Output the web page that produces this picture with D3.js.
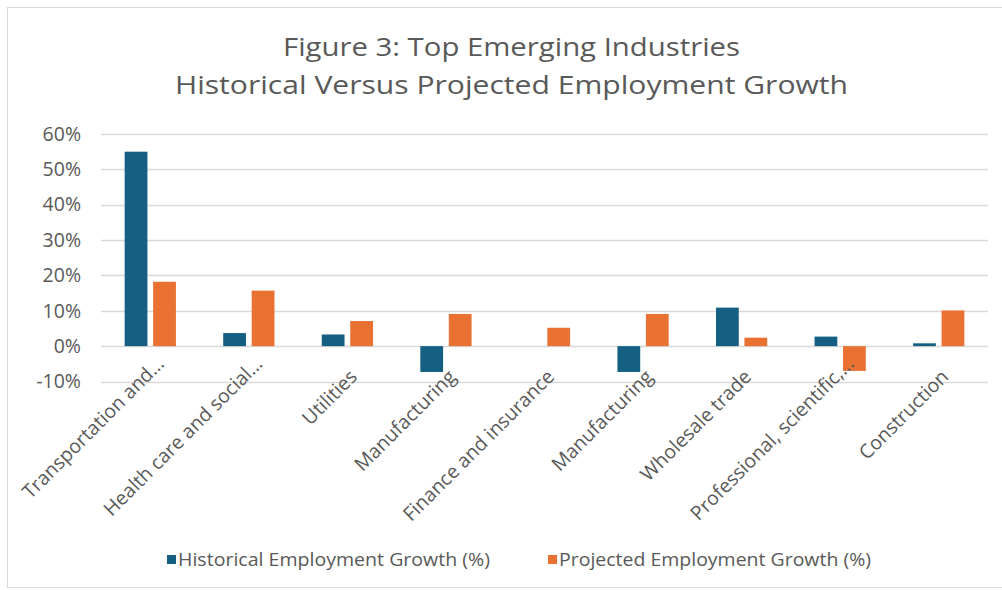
<!DOCTYPE html>
<html>
<head>
<meta charset="utf-8">
<script src="https://cdn.jsdelivr.net/npm/d3@7"></script>
<style>
  html, body { margin: 0; padding: 0; background: #fff; }
  svg { display: block; }
</style>
</head>
<body>
<svg id="visualization" width="1002" height="590"></svg>
<script>
const categories = [
    "Transportation and…",
    "Health care and social…",
    "Utilities",
    "Manufacturing",
    "Finance and insurance",
    "Manufacturing ",
    "Wholesale trade",
    "Professional, scientific,…",
    "Construction"
];
const historical = [55.0, 3.7, 3.3, -7.3, 0, -7.3, 10.9, 2.7, 0.8];
const projected = [18.2, 15.7, 7.1, 9.1, 5.2, 9.1, 2.4, -7.0, 10.1];
const seriesNames = ["Historical Employment Growth (%)", "Projected Employment Growth (%)"];
const seriesColors = ["#156082", "#E97132"];
const yTicks = [-10, 0, 10, 20, 30, 40, 50, 60];
const titleLines = ["Figure 3: Top Emerging Industries", "Historical Versus Projected Employment Growth"];

const font = '"Open Sans", "Noto Sans", sans-serif';
const textColor = "#595959";

const svg = d3.select("#visualization");

// chart frame
svg.append("rect")
    .attr("x", 7.5).attr("y", 7.5)
    .attr("width", 1000).attr("height", 580)
    .attr("fill", "#fff")
    .attr("stroke", "#d9d9d9");

// title
const titleWidths = [457, 673];
svg.append("g")
    .selectAll("text")
    .data(titleLines)
    .join("text")
    .attr("x", 511.5)
    .attr("y", (d, i) => 56 + i * 38)
    .attr("text-anchor", "middle")
    .attr("font-family", font)
    .attr("font-size", 26)
    .attr("fill", textColor)
    .attr("textLength", (d, i) => titleWidths[i])
    .attr("lengthAdjust", "spacingAndGlyphs")
    .text(d => d);

const plot = { left: 101, right: 988, top: 134, bottom: 381.5 };

const x = d3.scaleBand().domain(categories).range([plot.left, plot.right]).paddingInner(0.48).paddingOuter(0.24);
const xs = d3.scaleBand().domain([0, 1]).range([0, x.bandwidth()]).paddingInner(0.2);
const y = d3.scaleLinear().domain([-10, 60]).range([plot.bottom, plot.top]);

// gridlines
svg.append("g")
    .selectAll("line")
    .data(yTicks)
    .join("line")
    .attr("x1", plot.left).attr("x2", plot.right)
    .attr("y1", d => Math.round(y(d)) + 0.5).attr("y2", d => Math.round(y(d)) + 0.5)
    .attr("stroke", "#d9d9d9")
    .attr("stroke-width", 1.5);

// y axis labels
const yAxis = svg.append("g")
    .attr("transform", "translate(81,0)")
    .call(d3.axisLeft(y).tickValues(yTicks).tickFormat(d => d + "%").tickSize(0).tickPadding(0));
yAxis.select(".domain").remove();
yAxis.selectAll("text")
    .attr("font-family", font)
    .attr("font-size", 19.5)
    .attr("fill", textColor);

// bars
const rows = categories.map((c, i) => ({ cat: c, vals: [historical[i], projected[i]] }));
svg.append("g")
    .selectAll("g")
    .data(rows)
    .join("g")
    .attr("transform", d => `translate(${x(d.cat)},0)`)
    .selectAll("rect")
    .data(d => d.vals.map((v, k) => ({ v, k })))
    .join("rect")
    .attr("x", d => xs(d.k))
    .attr("width", xs.bandwidth())
    .attr("y", d => y(Math.max(0, d.v)))
    .attr("height", d => Math.abs(y(d.v) - y(0)))
    .attr("fill", d => seriesColors[d.k]);

// category labels (truncated ones sit a little higher, as in Excel)
svg.append("g")
    .selectAll("text")
    .data(categories)
    .join("text")
    .attr("transform", d => {
        const cx = x(d) + x.bandwidth() / 2;
        const cut = d.endsWith("…");
        return `translate(${cx + (cut ? 15 : 11)},${cut ? 365 : 378}) rotate(-45)`;
    })
    .attr("text-anchor", "end")
    .attr("font-family", font)
    .attr("font-size", 19.5)
    .attr("fill", textColor)
    .text(d => d.trim());

// legend
const legendX = [167, 548];
const legend = svg.append("g")
    .selectAll("g")
    .data(seriesNames)
    .join("g")
    .attr("transform", (d, i) => `translate(${legendX[i]},560)`);
legend.append("rect")
    .attr("x", 0).attr("y", -5)
    .attr("width", 9).attr("height", 9)
    .attr("fill", (d, i) => seriesColors[i]);
legend.append("text")
    .attr("x", 11).attr("y", 0)
    .attr("dy", "0.36em")
    .attr("font-family", font)
    .attr("font-size", 17.5)
    .attr("fill", textColor)
    .attr("textLength", 312)
    .attr("lengthAdjust", "spacingAndGlyphs")
    .text(d => d);
</script>
</body>
</html>
